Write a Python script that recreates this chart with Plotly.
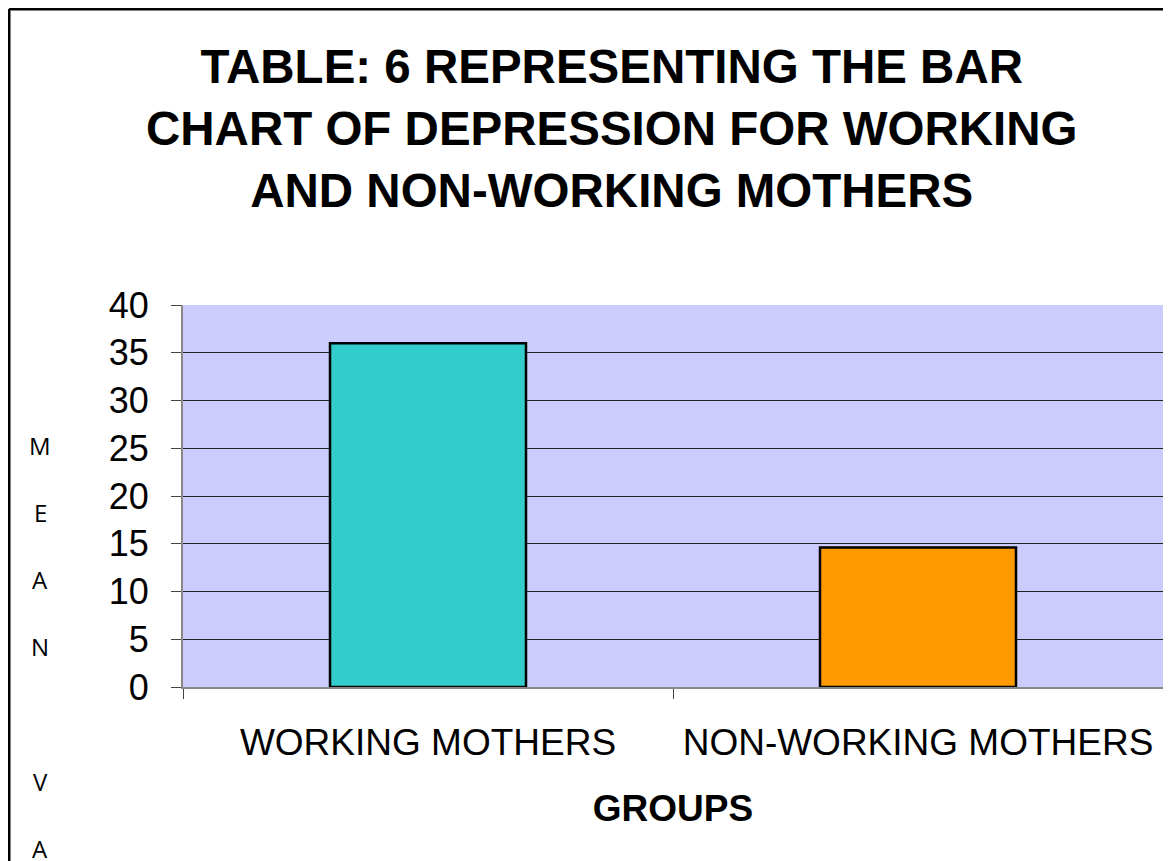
import plotly.graph_objects as go

groups = ["WORKING MOTHERS", "NON-WORKING MOTHERS"]
means = [36.0, 14.6]
bar_colors = ["#33CCCC", "#FF9900"]
y_ticks = [0, 5, 10, 15, 20, 25, 30, 35, 40]
side_letters = ["M", "E", "A", "N", "", "V", "A"]

title_text = ("TABLE: 6 REPRESENTING THE BAR<br>CHART OF DEPRESSION FOR WORKING"
              "<br>AND NON-WORKING MOTHERS")

fig = go.Figure(go.Bar(
    x=groups,
    y=means,
    marker=dict(color=bar_colors, line=dict(color="black", width=2.5)),
    width=0.4,
))

# page has an 8px body margin, so margins are shifted by 8px
fig.update_layout(
    width=1171,
    height=861,
    margin=dict(l=175, r=16, t=297, b=182),
    paper_bgcolor="white",
    plot_bgcolor="#CCCCFF",
    showlegend=False,
    font=dict(family="Liberation Sans, Arial", color="black"),
)

# chart title (three centred bold lines)
fig.add_annotation(
    text="<b>" + title_text + "</b>", xref="paper", yref="paper",
    x=(612 - 183) / 980, y=(687 - 128) / 382,
    showarrow=False, xanchor="center", yanchor="middle", align="center",
    font=dict(size=47.5, family="Liberation Sans, Arial"),
)

fig.update_xaxes(
    tickson="boundaries",
    ticks="outside", ticklen=10, tickcolor="#444",
    tickfont=dict(size=37),
    ticklabelstandoff=22,
    showline=True, linecolor="#888", linewidth=2,
    showgrid=False,
    title=dict(text="<b>GROUPS</b>", font=dict(size=37), standoff=33),
)
fig.update_yaxes(
    range=[0, 40],
    tickvals=y_ticks,
    ticks="outside", ticklen=10, tickcolor="#444",
    tickfont=dict(size=36),
    ticklabelstandoff=15,
    showline=True, linecolor="#888", linewidth=2, mirror=True,
    showgrid=True, gridcolor="#222", gridwidth=1,
    zeroline=False,
)

# vertical axis label, one letter per line
for i, ch in enumerate(side_letters):
    if ch:
        fig.add_annotation(
            text=ch, xref="paper", yref="paper",
            x=(40 - 183) / 980, y=(687 - 445 - 67.2 * i) / 382,
            showarrow=False, xanchor="center", yanchor="middle",
            font=dict(size=24, family="Open Sans, DejaVu Sans"),
        )

# frame of the original chart (left and top edges are visible)
fig.add_shape(type="line", xref="paper", yref="paper",
              x0=(9 - 183) / 980, x1=(9 - 183) / 980, y0=-1, y1=(687 - 9) / 382,
              line=dict(color="black", width=3))
fig.add_shape(type="line", xref="paper", yref="paper",
              x0=(9 - 183) / 980, x1=1.1, y0=(687 - 9) / 382, y1=(687 - 9) / 382,
              line=dict(color="black", width=3))

fig.write_html("out.html")
